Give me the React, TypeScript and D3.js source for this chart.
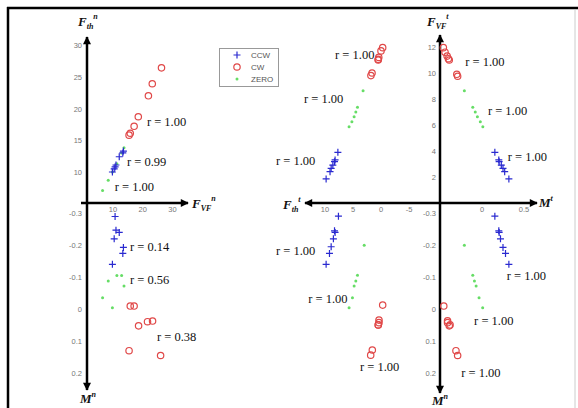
import React from 'react';
import { scaleLinear } from 'd3';

// upper-left: F_VF^n (x) vs F_th^n (y)
const ulCCW = [[13.5, 13.3], [13.3, 13.0], [12.1, 12.4], [11.0, 11.1], [10.7, 10.8], [10.4, 10.5], [9.8, 10.0]];
const ulCW = [[26.3, 26.4], [23.2, 23.9], [21.9, 22.0], [18.5, 18.7], [17.1, 17.2], [15.8, 16.1], [15.4, 15.8]];
const ulZERO = [[13.7, 13.8], [12.9, 13.0], [11.3, 11.3], [9.8, 10.0], [8.4, 8.7], [6.5, 7.1]];

// lower-left: F_VF^n (x) vs M^n (y)
const llCCW = [[10.7, -0.29], [11.0, -0.247], [12.1, -0.24], [10.4, -0.22], [13.5, -0.193], [13.3, -0.174], [9.8, -0.14]];
const llCW = [[15.8, -0.009], [17.1, -0.009], [18.6, 0.053], [21.6, 0.04], [23.3, 0.038], [15.4, 0.131], [26.0, 0.146]];
const llZERO = [[11.3, -0.105], [12.9, -0.105], [8.4, -0.088], [13.7, -0.072], [6.5, -0.035], [9.8, -0.004]];

// upper-middle: F_th^t (x, reversed) vs F_VF^t (y)
const umCCW = [[7.7, 3.9], [8.2, 3.31], [8.3, 3.18], [8.6, 2.92], [8.9, 2.67], [9.1, 2.41], [9.8, 1.85]];
const umCW = [[-0.3, 11.95], [0.0, 11.7], [0.4, 11.2], [0.5, 11.05], [0.5, 11.0], [1.6, 10.0], [1.8, 9.8]];
const umZERO = [[3.2, 8.64], [4.2, 7.36], [4.5, 7.0], [4.8, 6.64], [5.2, 6.25], [5.7, 5.87]];

// lower-middle: F_th^t (x, reversed) vs M^n (y)
const lmCCW = [[7.6, -0.291], [8.3, -0.245], [8.2, -0.24], [8.5, -0.22], [8.9, -0.195], [9.2, -0.174], [9.8, -0.14]];
const lmCW = [[-0.3, -0.012], [0.36, 0.035], [0.36, 0.043], [0.48, 0.05], [0.5, 0.05], [1.55, 0.129], [1.84, 0.145]];
const lmZERO = [[3.0, -0.2], [4.2, -0.106], [4.5, -0.088], [4.8, -0.072], [5.1, -0.035], [5.7, -0.004]];

// upper-right: M^t (x) vs F_VF^t (y)
const urCCW = [[0.153, 3.9], [0.2, 3.31], [0.204, 3.18], [0.23, 2.92], [0.25, 2.67], [0.27, 2.41], [0.32, 1.85]];
const urCW = [[-0.46, 11.95], [-0.44, 11.6], [-0.415, 11.3], [-0.4, 11.1], [-0.39, 11.0], [-0.3, 9.9], [-0.29, 9.75]];
const urZERO = [[-0.21, 8.64], [-0.11, 7.36], [-0.08, 7.0], [-0.055, 6.64], [-0.02, 6.25], [0.01, 5.87]];

// lower-right: M^t (x) vs M^n (y)
const lrCCW = [[0.153, -0.291], [0.2, -0.245], [0.204, -0.24], [0.22, -0.22], [0.25, -0.193], [0.28, -0.174], [0.32, -0.14]];
const lrCW = [[-0.455, -0.009], [-0.41, 0.037], [-0.41, 0.043], [-0.39, 0.053], [-0.38, 0.05], [-0.31, 0.131], [-0.29, 0.146]];
const lrZERO = [[-0.21, -0.2], [-0.11, -0.106], [-0.09, -0.088], [-0.07, -0.072], [-0.035, -0.035], [0.008, -0.004]];

// correlation labels: [x, y, text] in each panel's data units
const ulR = [[21.4, 17.2, 'r = 1.00'], [14.7, 10.9, 'r = 0.99'], [10.6, 7.0, 'r = 1.00']];
const llR = [[15.7, -0.182, 'r = 0.14'], [15.7, -0.078, 'r = 0.56'], [24.8, 0.1, 'r = 0.38']];
const umR = [[8.2, 11.1, 'r = 1.00'], [13.75, 7.7, 'r = 1.00'], [18.75, 2.9, 'r = 1.00']];
const lmR = [[18.75, -0.169, 'r = 1.00'], [13.0, -0.0185, 'r = 1.00'], [3.75, 0.195, 'r = 1.00']];
const urR = [[-0.2, 10.54, 'r = 1.00'], [0.07, 6.77, 'r = 1.00'], [0.306, 3.23, 'r = 1.00']];
const lrR = [[0.294, -0.091, 'r = 1.00'], [-0.094, 0.05, 'r = 1.00'], [-0.247, 0.214, 'r = 1.00']];

const fvfnTicks = [10, 20, 30];
const fthnTicks = [10, 15, 20, 25, 30];
const mnTicks = [-0.3, -0.2, -0.1, 0, 0.1, 0.2];
const fthtTicks = [10, 5, 0, -5];
const mtTicks = [0, 0.5];
const fvftTicks = [2, 4, 6, 8, 10, 12];
const legendItems = ['CCW', 'CW', 'ZERO'];

const xFVFn = scaleLinear().domain([10, 30]).range([113, 172.5]);
const yFthn = scaleLinear().domain([10, 30]).range([172, 45]);
const yMn = scaleLinear().domain([-0.3, 0.2]).range([213.3, 372.7]);
const xFtht = scaleLinear().domain([0, 10]).range([381, 325]);
const xMt = scaleLinear().domain([0, 0.5]).range([482, 524]);
const yFVFt = scaleLinear().domain([2, 12]).range([177, 47]);

const BLUE = '#2a2ad0';
const RED = '#e04848';
const GREEN = '#66dd66';
const TICK = '#777';
const serif = '"Liberation Serif", "Times New Roman", serif';
const sans = '"Liberation Sans", Arial, sans-serif';

function Plus({ x, y }) {
  return <path d={`M${x - 3.5},${y}H${x + 3.5}M${x},${y - 3.5}V${y + 3.5}`} stroke={BLUE} strokeWidth={1.2} />;
}
function Ring({ x, y }) {
  return <circle cx={x} cy={y} r={3.2} fill="none" stroke={RED} strokeWidth={1.2} />;
}
function Dot({ x, y }) {
  return <circle cx={x} cy={y} r={1.5} fill={GREEN} />;
}

function Panel({ xs, ys, ccw, cw, zero, labels }) {
  return (
    <g>
      {zero.map((d, i) => <Dot key={'z' + i} x={xs(d[0])} y={ys(d[1])} />)}
      {cw.map((d, i) => <Ring key={'c' + i} x={xs(d[0])} y={ys(d[1])} />)}
      {ccw.map((d, i) => <Plus key={'p' + i} x={xs(d[0])} y={ys(d[1])} />)}
      {labels.map((d, i) => (
        <text key={'r' + i} x={xs(d[0])} y={ys(d[1])} fontFamily={serif} fontSize={12.5} fill="#111">{d[2]}</text>
      ))}
    </g>
  );
}

function Title({ x, y, main, sub, sup }) {
  return (
    <text x={x} y={y} fontFamily={serif} fontWeight="bold" fontStyle="italic" fontSize={13} fill="#111">
      {main}
      {sub && <tspan fontSize={8} dy={3}>{sub}</tspan>}
      {sup && <tspan fontSize={8} dy={sub ? -10 : -6}>{sup}</tspan>}
    </text>
  );
}

export default function App() {
  const ax = { stroke: '#000', strokeWidth: 2.5, markerEnd: 'url(#arr)' };
  return (
    <svg width={578} height={408} style={{ position: 'absolute', left: 0, top: 0, background: '#fff' }}>
      <defs>
        <marker id="arr" viewBox="0 0 10 10" refX={9} refY={5} markerWidth={3.6} markerHeight={3.2} orient="auto" markerUnits="strokeWidth">
          <path d="M0,0L10,5L0,10Z" fill="#000" />
        </marker>
      </defs>
      {/* frame */}
      <line x1={7} y1={8} x2={578} y2={8} stroke="#000" strokeWidth={2.5} />
      <line x1={8} y1={7} x2={8} y2={408} stroke="#000" strokeWidth={2.5} />
      <line x1={575} y1={10} x2={575} y2={408} stroke="#ccc" strokeWidth={1} />

      {/* legend */}
      <rect x={219.5} y={48.5} width={59} height={38} fill="#fff" stroke="#999" strokeWidth={1} />
      {legendItems.map((name, i) => {
        const y = 55 + i * 12;
        return (
          <g key={name}>
            {i === 0 && <Plus x={237} y={y} />}
            {i === 1 && <Ring x={237} y={y} />}
            {i === 2 && <Dot x={237} y={y} />}
            <text x={251} y={y + 3} fontFamily={sans} fontSize={8} fill="#555">{name}</text>
          </g>
        );
      })}

      {/* tick labels */}
      <g fontFamily={sans} fontSize={7.5} fill={TICK}>
        {fthnTicks.map(t => <text key={'a' + t} x={82} y={yFthn(t) + 3} textAnchor="end">{t}</text>)}
        {fvfnTicks.map(t => <text key={'b' + t} x={xFVFn(t)} y={212} textAnchor="middle">{t}</text>)}
        {mnTicks.map(t => <text key={'c' + t} x={82} y={yMn(t) + 3} textAnchor="end">{t}</text>)}
        {mnTicks.map(t => <text key={'d' + t} x={436} y={yMn(t) + 3} textAnchor="end">{t}</text>)}
        {fthtTicks.map(t => <text key={'e' + t} x={xFtht(t)} y={212} textAnchor="middle">{t}</text>)}
        {mtTicks.map(t => <text key={'f' + t} x={xMt(t)} y={212} textAnchor="middle">{t}</text>)}
        {fvftTicks.map(t => <text key={'g' + t} x={436} y={yFVFt(t) + 3} textAnchor="end">{t}</text>)}
      </g>

      {/* left cross */}
      <line x1={87} y1={203} x2={87} y2={37} {...ax} />
      <line x1={87} y1={203} x2={87} y2={390} {...ax} />
      <line x1={81} y1={203} x2={188} y2={203} {...ax} />
      {/* right cross */}
      <line x1={440} y1={203} x2={440} y2={35} {...ax} />
      <line x1={440} y1={203} x2={440} y2={393} {...ax} />
      <line x1={440} y1={203} x2={305} y2={203} {...ax} />
      <line x1={440} y1={203} x2={537} y2={203} {...ax} />

      <Panel xs={xFVFn} ys={yFthn} ccw={ulCCW} cw={ulCW} zero={ulZERO} labels={ulR} />
      <Panel xs={xFVFn} ys={yMn} ccw={llCCW} cw={llCW} zero={llZERO} labels={llR} />
      <Panel xs={xFtht} ys={yFVFt} ccw={umCCW} cw={umCW} zero={umZERO} labels={umR} />
      <Panel xs={xFtht} ys={yMn} ccw={lmCCW} cw={lmCW} zero={lmZERO} labels={lmR} />
      <Panel xs={xMt} ys={yFVFt} ccw={urCCW} cw={urCW} zero={urZERO} labels={urR} />
      <Panel xs={xMt} ys={yMn} ccw={lrCCW} cw={lrCW} zero={lrZERO} labels={lrR} />

      <Title x={78} y={26} main="F" sub="th" sup="n" />
      <Title x={192} y={208} main="F" sub="VF" sup="n" />
      <Title x={80} y={403} main="M" sup="n" />
      <Title x={427} y={26} main="F" sub="VF" sup="t" />
      <Title x={283} y={209} main="F" sub="th" sup="t" />
      <Title x={539} y={207} main="M" sup="t" />
      <Title x={432} y={405} main="M" sup="n" />
    </svg>
  );
}
